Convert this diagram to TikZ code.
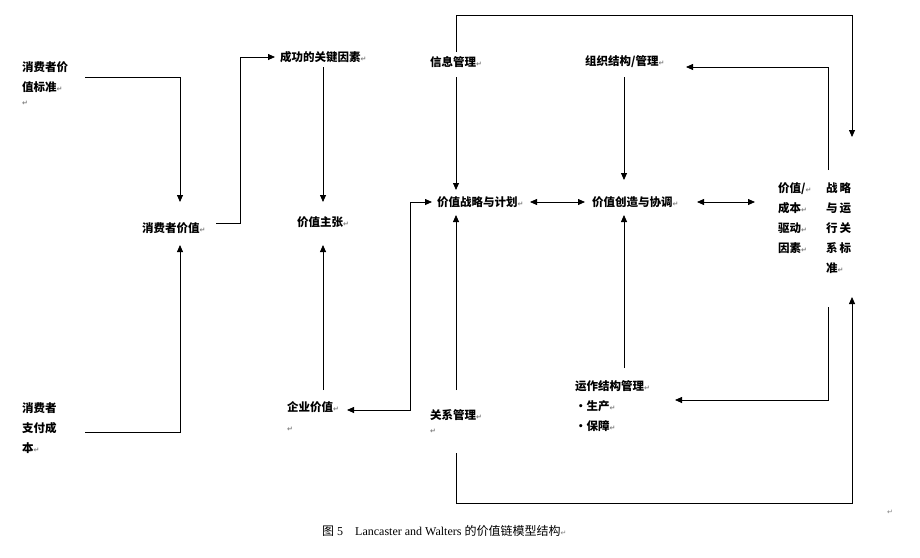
\documentclass[tikz,border=0pt]{standalone}
\usepackage{fontspec}
\setmainfont{Liberation Serif}
\newfontfamily\cjk{Noto Sans CJK SC}
\newfontfamily\dvs{DejaVu Sans}
\usetikzlibrary{arrows.meta}
\newcommand{\retm}{{\dvs\fontsize{7}{7}\selectfont\color{gray}↵}}
\begin{document}
\begin{tikzpicture}[x=1pt,y=-1pt,
  lab/.style={anchor=west,inner sep=0pt,font=\cjk\bfseries\fontsize{11.5}{20}\selectfont,align=left},
  ln/.style={line width=0.8pt},
  ar/.style={ln,-{Triangle[length=7pt,width=6pt]}},
  dar/.style={ln,{Triangle[length=7pt,width=6pt]}-{Triangle[length=7pt,width=6pt]}}]
\useasboundingbox[fill=white] (0,0) rectangle (920,557);
% labels
\node[lab] (cvs) at (22,84) {消费者价\\值标准\retm\\[-6pt]\retm};
\node[lab] (cv) at (142,228) {消费者价值\retm};
\node[lab] (ksf) at (280,57) {成功的关键因素\retm};
\node[lab] (vp) at (297,222) {价值主张\retm};
\node[lab] (cpc) at (22,428) {消费者\\支付成\\本\retm};
\node[lab] (ev) at (287,417) {企业价值\retm\\\retm};
\node[lab] (im) at (430,62) {信息管理\retm};
\node[lab] (osm) at (585,62) {组织结构/管理\retm};
\node[lab] (vsp) at (437,202) {价值战略与计划\retm};
\node[lab] (vcc) at (592,202) {价值创造与协调\retm};
\node[lab] (vcd) at (778,218) {价值/\retm\\成本\retm\\驱动\retm\\因素\retm};
\node[lab] (sor) at (826,228) {战\,略\\与\,运\\行\,关\\系\,标\\准\retm};
\node[lab] (rm) at (430,422) {关系管理\retm\\[-6pt]\retm};
\node[lab] (opm) at (575,406) {运作结构管理\retm\\·生产\retm\\·保障\retm};
\node[anchor=west,inner sep=0pt,font=\fontsize{12}{14}\selectfont] (cap) at (322,531) {{\cjk 图} 5\quad Lancaster and Walters {\cjk 的价值链模型结构}\retm};
\node[inner sep=0pt] (endmark) at (890,512) {\retm};
% coordinates
\coordinate (a1) at (85,77); \coordinate (a2) at (180,202);
\coordinate (b0) at (85,432); \coordinate (b2) at (180,245);
\coordinate (c0) at (216,223); \coordinate (c3) at (275,57);
\coordinate (d0) at (323,67); \coordinate (d1) at (323,202);
\coordinate (e0) at (323,390); \coordinate (e1) at (323,245);
\coordinate (f1) at (432,202); \coordinate (f2) at (347,410);
\coordinate (g0) at (456,52); \coordinate (g1) at (852,137);
\coordinate (h0) at (456,77); \coordinate (h1) at (456,190);
\coordinate (i0) at (456,390); \coordinate (i1) at (456,215);
\coordinate (j0) at (456,453); \coordinate (j1) at (852,297);
\coordinate (k0) at (530,202); \coordinate (k1) at (585,202);
\coordinate (l0) at (697,202); \coordinate (l1) at (755,202);
\coordinate (m0) at (624,77); \coordinate (m1) at (624,180);
\coordinate (n0) at (624,368); \coordinate (n1) at (624,215);
\coordinate (o0) at (828,170); \coordinate (o1) at (686,67);
\coordinate (p0) at (828,307); \coordinate (p1) at (675,400);
% connectors
\draw[ar] (a1) -| (a2);
\draw[ar] (b0) -| (b2);
\draw[ar] (c0) -- (240,223) |- (c3);
\draw[ar] (d0) -- (d1);
\draw[ar] (e0) -- (e1);
\draw[dar] (f1) -- (410,202) |- (f2);
\draw[ar] (g0) |- (852,15) -- (g1);
\draw[ar] (h0) -- (h1);
\draw[ar] (i0) -- (i1);
\draw[ar] (j0) |- (852,503) -- (j1);
\draw[dar] (k0) -- (k1);
\draw[dar] (l0) -- (l1);
\draw[ar] (m0) -- (m1);
\draw[ar] (n0) -- (n1);
\draw[ar] (o0) |- (o1);
\draw[ar] (p0) |- (p1);
\end{tikzpicture}
\end{document}
